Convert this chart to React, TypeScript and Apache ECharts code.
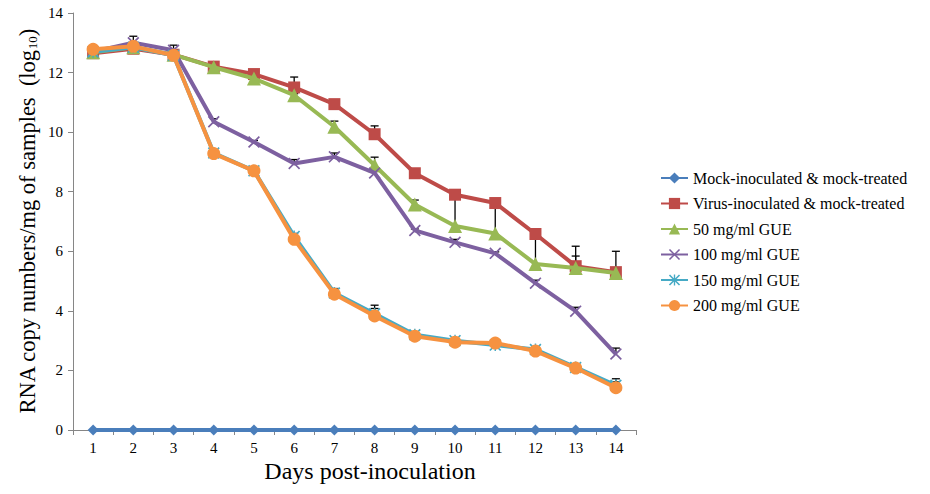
import React, { useEffect, useRef } from "react";
import * as echarts from "echarts";

const days = ["1", "2", "3", "4", "5", "6", "7", "8", "9", "10", "11", "12", "13", "14"];
const seriesNames = [
  "Mock-inoculated & mock-treated",
  "Virus-inoculated & mock-treated",
  "50 mg/ml GUE",
  "100 mg/ml GUE",
  "150 mg/ml GUE",
  "200 mg/ml GUE",
];
const mockValues = [0, 0, 0, 0, 0, 0, 0, 0, 0, 0, 0, 0, 0, 0];
const virusValues = [12.65, 12.8, 12.6, 12.2, 11.95, 11.5, 10.94, 9.93, 8.62, 7.9, 7.62, 6.58, 5.5, 5.3];
const gue50Values = [12.68, 12.85, 12.6, 12.18, 11.8, 11.24, 10.18, 8.89, 7.57, 6.85, 6.6, 5.57, 5.44, 5.27];
const gue100Values = [12.7, 13.0, 12.75, 10.35, 9.67, 8.95, 9.17, 8.63, 6.7, 6.3, 5.93, 4.93, 3.99, 2.55];
const gue150Values = [12.7, 12.85, 12.58, 9.3, 8.7, 6.5, 4.6, 3.9, 3.2, 3.0, 2.85, 2.7, 2.1, 1.5];
const gue200Values = [12.78, 12.88, 12.58, 9.28, 8.7, 6.4, 4.56, 3.83, 3.15, 2.95, 2.92, 2.65, 2.08, 1.42];

const mockErr = [0, 0, 0, 0, 0, 0, 0, 0, 0, 0, 0, 0, 0, 0];
const virusErr = [0.05, 0.05, 0.05, 0.05, 0.05, 0.35, 0.05, 0.28, 0.05, 0.05, 0.05, 0.05, 0.67, 0.7];
const gue50Err = [0.05, 0.05, 0.05, 0.05, 0.05, 0.05, 0.19, 0.27, 0.15, 1.05, 1.02, 1.0, 0.4, 0.05];
const gue100Err = [0.05, 0.22, 0.17, 0.1, 0.05, 0.13, 0.13, 0.05, 0.05, 0.1, 0.05, 0.1, 0.13, 0.2];
const gue150Err = [0.05, 0.05, 0.05, 0.05, 0.05, 0.1, 0.15, 0.29, 0.1, 0.05, 0.05, 0.1, 0.05, 0.22];
const gue200Err = [0.05, 0.05, 0.05, 0.05, 0.05, 0.1, 0.15, 0.25, 0.1, 0.05, 0.05, 0.05, 0.05, 0.2];

const colors = ["#4A7EBB", "#BE4B48", "#98B954", "#7D60A0", "#46AAC5", "#F69240"];
const xPath = "path://M0,1L1,0L5,4L9,0L10,1L6,5L10,9L9,10L5,6L1,10L0,9L4,5Z";
const starPath =
  "path://M0,1L1,0L5,4L9,0L10,1L6,5L10,9L9,10L5,6L1,10L0,9L4,5Z M4.4,0L5.6,0L5.6,4.2L4.4,4.2Z M4.4,5.8L5.6,5.8L5.6,10L4.4,10Z";
const symbols = ["diamond", "rect", "triangle", xPath, starPath, "circle"];
const symbolSizes = [11, 12, 14, 12, 12, 13];

const FONT = "'Liberation Serif', 'Times New Roman', serif";

export default function App() {
  const ref = useRef<HTMLDivElement>(null);
  useEffect(() => {
    if (!ref.current) return;
    const chart = echarts.init(ref.current, undefined, { renderer: "svg" });
    const valuesList = [mockValues, virusValues, gue50Values, gue100Values, gue150Values, gue200Values];
    const errList = [mockErr, virusErr, gue50Err, gue100Err, gue150Err, gue200Err];

    const lineSeries: any[] = seriesNames.map((name, i) => ({
      name,
      type: "line",
      data: valuesList[i],
      symbol: symbols[i],
      symbolSize: symbolSizes[i],
      showAllSymbol: true,
      lineStyle: { color: colors[i], width: 4 },
      itemStyle: { color: colors[i] },
      z: 3 + i,
    }));

    const errSeries: any[] = seriesNames.map((name, i) => ({
      name: name + " error",
      type: "custom",
      z: 2,
      silent: true,
      data: valuesList[i].map((v, k) => [k, v, errList[i][k]]),
      renderItem: (params: any, api: any) => {
        const x = api.value(0);
        const y = api.value(1);
        const e = api.value(2);
        if (!(e > 0.02)) return { type: "group", children: [] };
        const p0 = api.coord([x, y]);
        const p1 = api.coord([x, y + e]);
        const style = { stroke: "#000", lineWidth: 1.3 };
        return {
          type: "group",
          children: [
            { type: "line", shape: { x1: p0[0], y1: p0[1], x2: p1[0], y2: p1[1] }, style },
            { type: "line", shape: { x1: p1[0] - 4, y1: p1[1], x2: p1[0] + 4, y2: p1[1] }, style },
          ],
        };
      },
    }));

    chart.setOption({
      animation: false,
      textStyle: { fontFamily: FONT },
      grid: { left: 73, right: 294, top: 13, bottom: 64, containLabel: false },
      legend: {
        orient: "vertical",
        left: 655,
        top: 165,
        itemWidth: 27,
        itemHeight: 14,
        itemGap: 9.5,
        data: seriesNames,
        textStyle: { fontFamily: FONT, fontSize: 16, color: "#000" },
      },
      xAxis: {
        type: "category",
        data: days,
        boundaryGap: true,
        axisLine: { lineStyle: { color: "#868686", width: 1 } },
        axisTick: { show: true, length: 5, lineStyle: { color: "#868686" } },
        axisLabel: { fontFamily: FONT, fontSize: 15, color: "#000", margin: 10 },
        name: "Days post-inoculation",
        nameLocation: "middle",
        nameGap: 29,
        nameMoveOverlap: false,
        nameTextStyle: { fontFamily: FONT, fontSize: 24, lineHeight: 24, color: "#000", padding: [0, 0, 0, 31] },
      },
      yAxis: {
        type: "value",
        min: 0,
        max: 14,
        interval: 2,
        splitLine: { show: false },
        axisLine: { show: true, lineStyle: { color: "#868686", width: 1 } },
        axisTick: { show: true, length: 5, lineStyle: { color: "#868686" } },
        axisLabel: { fontFamily: FONT, fontSize: 15, color: "#000", margin: 10 },
        name: "{a|RNA copy numbers/mg of samples  (log}{b|10}{a|)}",
        nameLocation: "middle",
        nameGap: 34,
        nameMoveOverlap: false,
        nameRotate: 90,
        nameTextStyle: {
          fontFamily: FONT,
          color: "#000",
          padding: [0, 0, 0, 0],
          rich: {
            a: { fontFamily: FONT, fontSize: 22.5, color: "#000", lineHeight: 26, verticalAlign: "bottom" },
            b: { fontFamily: FONT, fontSize: 13, color: "#000", lineHeight: 13, verticalAlign: "bottom" },
          },
        },
      },
      series: [...lineSeries, ...errSeries],
    });
    return () => chart.dispose();
  }, []);
  return (
    <div
      ref={ref}
      style={{ position: "fixed", left: 0, top: 0, width: 930, height: 494, background: "#fff" }}
    />
  );
}
